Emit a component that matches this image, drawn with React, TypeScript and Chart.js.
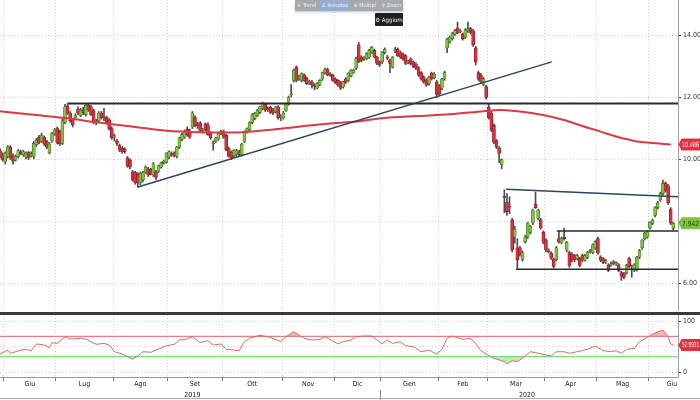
import React, { useEffect, useRef } from 'react';
import { Chart, registerables } from 'chart.js';

Chart.register(...registerables);

// ---------- daily OHLC (trading-day index 0..259) ----------
const opens = [
  10.29, 10.12, 9.92, 10.1, 10.4, 10.12, 9.98, 10.1, 10.24, 10.15,
  10.08, 10.22, 10.12, 10.1, 10.48, 10.72, 10.58, 10.72, 10.58, 10.22,
  10.6, 10.82, 11.0, 10.9, 10.52, 11.2, 11.72, 11.5, 11.28, 11.35,
  11.62, 11.42, 11.6, 11.45, 11.75, 11.7, 11.58, 11.18, 11.25, 11.5,
  11.36, 11.36, 11.28, 11.0, 10.72, 10.6, 10.45, 10.36, 10.34, 10.05,
  9.98, 9.6, 9.58, 9.52, 9.25, 9.35, 9.6, 9.7, 9.68, 9.5,
  9.6, 9.62, 9.75, 9.9, 9.9, 10.08, 10.18, 10.2, 10.1, 10.4,
  10.65, 10.72, 10.98, 10.92, 11.05, 11.35, 11.12, 11.18, 10.94, 11.15,
  11.12, 10.85, 10.5, 10.58, 10.66, 10.84, 10.9, 10.78, 10.35, 10.24,
  10.12, 10.16, 10.25, 10.15, 10.58, 10.88, 10.96, 11.2, 11.32, 11.42,
  11.52, 11.65, 11.78, 11.62, 11.68, 11.6, 11.54, 11.7, 11.38, 11.35,
  11.58, 11.8, 12.08, 12.55, 12.98, 12.62, 12.55, 12.72, 12.62, 12.48,
  12.5, 12.4, 12.3, 12.4, 12.6, 12.8, 12.9, 12.74, 12.72, 12.6,
  12.55, 12.48, 12.34, 12.6, 12.55, 12.7, 12.8, 12.95, 13.7, 13.3,
  13.26, 13.25, 13.3, 13.45, 13.52, 13.3, 13.15, 13.15, 13.45, 13.3,
  13.2, 12.98, 13.5, 13.55, 13.45, 13.4, 13.35, 13.14, 13.25, 13.15,
  13.08, 12.96, 12.8, 12.65, 12.56, 12.45, 12.78, 12.64, 12.5, 12.38,
  12.3, 12.6, 13.6, 13.8, 13.9, 14.04, 14.25, 14.12, 14.05, 13.95,
  14.15, 14.22, 14.15, 13.6, 12.8, 12.72, 12.42, 12.35, 11.68, 11.5,
  11.1, 10.6, 10.38, 9.84, 8.82, 8.62, 8.5, 8.05, 7.5, 7.15,
  7.15, 6.78, 7.35, 7.5, 7.65, 7.95, 8.55, 8.1, 8.05, 7.65,
  7.4, 7.06, 6.98, 6.78, 6.77, 7.45, 7.33, 7.5, 7.08, 7.0,
  6.95, 6.9, 6.8, 6.8, 6.9, 6.75, 6.85, 7.04, 7.0, 7.15,
  7.45, 6.85, 6.8, 6.7, 6.6, 6.6, 6.7, 6.64, 6.6, 6.35,
  6.32, 6.35, 6.8, 6.54, 6.42, 6.45, 6.85, 7.15, 7.45, 7.5,
  7.8, 7.94, 8.2, 8.45, 8.7, 8.9, 9.23, 9.15, 8.4, 7.78,
];
const highs = [
  10.35, 10.22, 10.25, 10.45, 10.45, 10.18, 10.15, 10.32, 10.3, 10.3,
  10.25, 10.26, 10.25, 10.58, 10.68, 10.78, 10.85, 10.76, 10.62, 10.55,
  10.88, 11.0, 11.05, 10.95, 11.3, 11.78, 11.82, 11.55, 11.32, 11.48,
  11.7, 11.65, 11.68, 11.8, 11.8, 11.75, 11.62, 11.3, 11.55, 11.55,
  11.65, 11.4, 11.32, 11.05, 10.82, 10.65, 10.5, 10.42, 10.38, 10.1,
  10.02, 9.65, 9.62, 9.58, 9.6, 9.62, 9.8, 9.75, 9.72, 9.9,
  9.65, 9.82, 9.92, 9.98, 10.22, 10.28, 10.25, 10.25, 10.42, 10.72,
  10.85, 10.95, 11.05, 10.98, 11.55, 11.42, 11.2, 11.22, 11.0, 11.18,
  11.18, 10.9, 10.6, 10.72, 10.88, 10.95, 10.95, 10.82, 10.4, 10.28,
  10.32, 10.33, 10.3, 10.52, 10.92, 11.02, 11.22, 11.48, 11.52, 11.62,
  11.72, 11.85, 11.82, 11.7, 11.72, 11.65, 11.72, 11.74, 11.45, 11.55,
  11.82, 12.05, 12.42, 12.92, 13.02, 12.72, 12.8, 12.76, 12.66, 12.55,
  12.55, 12.45, 12.48, 12.58, 12.82, 12.95, 12.95, 12.8, 12.76, 12.64,
  12.58, 12.52, 12.52, 12.64, 12.8, 12.9, 12.92, 13.3, 13.78, 13.35,
  13.32, 13.45, 13.55, 13.65, 13.56, 13.34, 13.18, 13.48, 13.6, 13.36,
  13.24, 13.32, 13.62, 13.6, 13.5, 13.44, 13.38, 13.2, 13.28, 13.18,
  13.12, 13.0, 12.84, 12.7, 12.6, 12.68, 12.82, 12.8, 12.55, 12.42,
  12.62, 12.85, 13.92, 13.98, 14.1, 14.2, 14.43, 14.2, 14.08, 14.22,
  14.43, 14.26, 14.2, 13.65, 12.85, 12.78, 12.65, 12.4, 11.8, 11.55,
  11.15, 10.65, 10.42, 10.02, 9.02, 8.9, 8.8, 8.1, 7.85, 7.45,
  7.2, 7.05, 7.55, 7.98, 7.88, 8.4, 8.95, 8.4, 8.1, 7.7,
  7.45, 7.12, 7.02, 6.82, 7.2, 7.69, 7.5, 7.79, 7.36, 7.05,
  7.0, 6.94, 6.94, 6.84, 6.95, 6.94, 7.04, 7.1, 7.28, 7.38,
  7.5, 6.9, 6.84, 6.78, 6.64, 6.7, 6.74, 6.7, 6.64, 6.4,
  6.36, 6.62, 6.85, 6.6, 6.64, 6.88, 7.1, 7.42, 7.65, 7.7,
  8.0, 8.08, 8.48, 8.65, 8.95, 9.34, 9.28, 9.2, 8.45, 7.98,
];
const lows = [
  10.05, 9.95, 9.85, 10.05, 10.0, 9.85, 9.95, 10.05, 10.15, 10.1,
  10.02, 10.0, 10.08, 10.02, 10.42, 10.5, 10.55, 10.45, 10.35, 10.18,
  10.55, 10.78, 10.5, 10.45, 10.48, 11.15, 11.45, 11.2, 11.05, 11.3,
  11.45, 11.38, 11.45, 11.4, 11.55, 11.42, 11.15, 11.12, 11.2, 11.3,
  11.25, 11.15, 10.95, 10.65, 10.6, 10.45, 10.25, 10.2, 10.2, 9.75,
  9.7, 9.3, 9.2, 9.1, 9.18, 9.28, 9.55, 9.45, 9.5, 9.45,
  9.35, 9.58, 9.72, 9.85, 9.88, 10.02, 10.1, 10.08, 10.05, 10.35,
  10.6, 10.68, 10.75, 10.68, 11.0, 11.05, 11.0, 10.88, 10.85, 10.92,
  10.78, 10.65, 10.3, 10.55, 10.62, 10.8, 10.68, 10.28, 10.08, 10.0,
  10.08, 10.1, 10.1, 10.12, 10.55, 10.85, 10.92, 11.15, 11.28, 11.38,
  11.48, 11.6, 11.55, 11.55, 11.48, 11.45, 11.5, 11.3, 11.25, 11.3,
  11.55, 11.75, 12.02, 12.5, 12.5, 12.55, 12.5, 12.52, 12.42, 12.42,
  12.3, 12.25, 12.28, 12.38, 12.55, 12.75, 12.7, 12.68, 12.52, 12.45,
  12.36, 12.25, 12.3, 12.45, 12.5, 12.66, 12.78, 12.9, 13.12, 13.15,
  13.2, 13.22, 13.26, 13.42, 13.28, 13.06, 13.0, 13.1, 13.4, 13.22,
  12.8, 12.95, 13.45, 13.32, 13.26, 13.2, 13.06, 13.08, 13.05, 12.96,
  12.9, 12.68, 12.56, 12.46, 12.36, 12.4, 12.56, 12.6, 12.0, 12.05,
  12.25, 12.55, 13.45, 13.75, 13.85, 14.0, 14.05, 14.08, 13.85, 13.9,
  14.1, 14.05, 13.65, 13.05, 12.55, 12.45, 12.38, 11.95, 11.3, 10.9,
  10.5, 10.35, 9.9, 9.7, 8.28, 8.2, 8.25, 7.02, 7.3, 6.46,
  6.88, 6.72, 7.3, 7.45, 7.6, 7.9, 8.42, 8.05, 7.75, 7.28,
  7.02, 6.98, 6.78, 6.5, 6.72, 7.3, 7.28, 7.4, 7.02, 6.52,
  6.7, 6.7, 6.76, 6.54, 6.7, 6.72, 6.8, 6.98, 6.96, 7.1,
  6.95, 6.7, 6.64, 6.64, 6.38, 6.55, 6.6, 6.58, 6.38, 6.1,
  6.15, 6.3, 6.5, 6.2, 6.38, 6.4, 6.8, 7.1, 7.4, 7.46,
  7.75, 7.9, 8.15, 8.4, 8.65, 8.85, 8.95, 8.55, 7.9, 7.72,
];
const closes = [
  10.13, 10.0, 10.2, 10.4, 10.05, 9.95, 10.1, 10.28, 10.2, 10.25,
  10.2, 10.05, 10.18, 10.52, 10.62, 10.55, 10.78, 10.5, 10.4, 10.5,
  10.85, 10.95, 10.55, 10.5, 11.25, 11.7, 11.5, 11.25, 11.12, 11.42,
  11.5, 11.6, 11.52, 11.75, 11.6, 11.45, 11.2, 11.24, 11.5, 11.35,
  11.34, 11.2, 10.98, 10.7, 10.76, 10.52, 10.3, 10.25, 10.26, 9.8,
  9.75, 9.33, 9.25, 9.24, 9.55, 9.58, 9.75, 9.5, 9.55, 9.86,
  9.42, 9.8, 9.88, 9.95, 10.2, 10.25, 10.15, 10.13, 10.4, 10.7,
  10.8, 10.9, 10.8, 10.72, 11.5, 11.1, 11.08, 10.92, 10.96, 10.95,
  10.8, 10.7, 10.52, 10.7, 10.85, 10.9, 10.72, 10.32, 10.1, 10.05,
  10.3, 10.28, 10.16, 10.5, 10.9, 11.0, 11.2, 11.45, 11.5, 11.58,
  11.7, 11.8, 11.6, 11.6, 11.52, 11.5, 11.7, 11.35, 11.42, 11.5,
  11.8, 12.0, 12.12, 12.88, 12.55, 12.66, 12.78, 12.55, 12.45, 12.5,
  12.4, 12.36, 12.45, 12.55, 12.8, 12.9, 12.72, 12.72, 12.55, 12.48,
  12.4, 12.3, 12.5, 12.5, 12.78, 12.88, 12.88, 13.27, 13.15, 13.2,
  13.28, 13.42, 13.52, 13.62, 13.3, 13.1, 13.05, 13.45, 13.55, 13.27,
  13.1, 13.3, 13.53, 13.35, 13.3, 13.25, 13.1, 13.16, 13.1, 13.0,
  12.95, 12.72, 12.6, 12.5, 12.4, 12.65, 12.6, 12.75, 12.1, 12.12,
  12.6, 12.8, 13.88, 13.95, 14.06, 14.15, 14.08, 14.15, 13.9, 14.18,
  14.22, 14.1, 13.7, 13.15, 12.6, 12.5, 12.6, 12.0, 11.35, 10.95,
  10.55, 10.4, 10.2, 10.0, 8.78, 8.32, 8.46, 7.08, 7.75, 6.77,
  6.93, 7.0, 7.5, 7.95, 7.85, 8.37, 8.45, 8.37, 7.8, 7.33,
  7.08, 7.03, 6.82, 6.55, 7.15, 7.33, 7.45, 7.45, 7.33, 6.58,
  6.75, 6.76, 6.9, 6.58, 6.75, 6.9, 7.0, 7.06, 7.25, 7.35,
  6.98, 6.75, 6.68, 6.72, 6.42, 6.63, 6.65, 6.66, 6.42, 6.25,
  6.2, 6.58, 6.55, 6.56, 6.6, 6.85, 7.06, 7.4, 7.62, 7.66,
  7.98, 8.03, 8.45, 8.6, 8.9, 9.23, 9.0, 8.6, 7.95, 7.942,
];

// ---------- moving average ----------
const maDays = [0, 13, 26, 38, 51, 64, 77, 90, 103, 115, 128, 135, 147, 160, 173, 186, 192, 199, 205, 212, 218, 224, 231, 237, 244, 250, 258];
const maValues = [11.56, 11.44, 11.33, 11.19, 11.06, 10.93, 10.88, 10.87, 10.95, 11.06, 11.17, 11.21, 11.33, 11.4, 11.46, 11.56, 11.6, 11.56, 11.49, 11.38, 11.25, 11.08, 10.9, 10.74, 10.6, 10.54, 10.486];

// ---------- drawn trend / level lines ----------
const riseLineDays = [53.1, 212.2];
const riseLineVals = [9.11, 13.15];
const fallLineDays = [194.6, 260.8];
const fallLineVals = [9.04, 8.8];
const topLevelDays = [26.2, 260.8];
const topLevelVals = [11.81, 11.81];
const rangeTopDays = [214.2, 260.8];
const rangeTopVals = [7.69, 7.69];
const rangeLowDays = [198.5, 260.8];
const rangeLowVals = [6.46, 6.46];

// ---------- RSI ----------
const rsiDays = [0, 3, 4, 8, 10, 12, 14, 17, 19, 20, 22, 25, 27, 31, 33, 35, 37, 40, 42, 44, 47, 49, 51, 53, 55, 58, 60, 64, 67, 69, 72, 74, 77, 80, 82, 85, 87, 90, 92, 94, 96, 100, 103, 105, 108, 110, 113, 115, 117, 120, 123, 125, 128, 130, 132, 135, 137, 140, 143, 145, 147, 149, 151, 154, 156, 159, 162, 165, 168, 170, 172, 174, 178, 181, 183, 185, 187, 190, 194, 195, 197, 199, 201, 204, 206, 210, 212, 214, 217, 219, 222, 224, 227, 229, 232, 235, 237, 239, 241, 244, 246, 249, 251, 255, 257, 258, 259];
const rsiValues = [35.3, 43, 36.6, 43, 44.5, 41.8, 55, 53, 47.7, 57.5, 56, 69, 64.7, 66, 64.7, 59.4, 54.3, 56, 53, 39.8, 35.3, 30, 24.9, 31.4, 39.8, 38.6, 43, 51.6, 54.3, 62.7, 64.7, 69.2, 57.5, 61.4, 53, 55, 44.5, 43, 41.8, 59.4, 66, 72, 69.2, 66, 59.4, 69.2, 79, 72.5, 66, 62.7, 64, 69.2, 60.8, 55, 59.4, 62.7, 69.2, 70.6, 70.6, 62.7, 55, 62.7, 56, 59.4, 51.6, 49.7, 39.8, 43, 35.3, 44.5, 66, 70.6, 64, 66, 55, 41.8, 35.3, 26.9, 20.2, 15.7, 22.2, 20.2, 26.9, 39.8, 37.9, 33.3, 31.4, 39.8, 39.8, 36.6, 39.8, 41.8, 46.5, 51, 41.8, 39.8, 41.8, 36.6, 44.5, 46.5, 59.4, 68, 74.5, 82.4, 69.2, 55, 52.9931];
const rsiUpper = 70;
const rsiLower = 30;

// ---------- axes ----------
const monthBounds = [1.5, 21.5, 43.5, 64.5, 85.5, 108.5, 128.5, 146.5, 168.5, 187.5, 209.5, 229.5, 249.5];
const monthLabels = ['Giu', 'Lug', 'Ago', 'Set', 'Ott', 'Nov', 'Dic', 'Gen', 'Feb', 'Mar', 'Apr', 'Mag', 'Giu'];
const monthLastEnd = 267.5;
const yearBounds = [1.5, 146.5, 259];
const yearLabels = ['2019', '2020'];
const priceTicks = [6, 8, 10, 12, 14];
const rsiTicks = [0, 50, 100];

// ---------- layout constants ----------
const FONT = '"DejaVu Sans Condensed", "Liberation Sans Narrow", "DejaVu Sans", sans-serif';
const X_MIN = 0;
const X_MAX = 260.8;
const PRICE_MIN = 5.113;
const PRICE_MAX = 15.145;
const RSI_MIN = -9.8;
const RSI_MAX = 111.8;
const AXIS_W = 22;
const GRID = '#cfcfcf';
const UP_FILL = '#80c244';
const UP_EDGE = '#3d6a18';
const DN_FILL = '#d8323e';
const DN_EDGE = '#7c1820';

const near = (a: number, b: number) => Math.abs(a - b) < 0.01;
const monthMids = monthBounds.map((b, i) => (b + (i + 1 < monthBounds.length ? monthBounds[i + 1] : monthLastEnd)) / 2);
const yearMids = yearLabels.map((_, i) => (yearBounds[i] + yearBounds[i + 1]) / 2);
const pts = (xs: number[], ys: number[]) => xs.map((x, i) => ({ x, y: ys[i] }));

const noPad = (s: any) => {
  s.paddingTop = 0;
  s.paddingBottom = 0;
  s.paddingLeft = 0;
  s.paddingRight = 0;
};

function valueTag(ctx: CanvasRenderingContext2D, x0: number, y: number, text: string, bg: string, fg: string) {
  ctx.save();
  ctx.fillStyle = bg;
  ctx.beginPath();
  ctx.moveTo(x0 + 0.5, y);
  ctx.lineTo(x0 + 3.5, y - 6);
  ctx.lineTo(700, y - 6);
  ctx.lineTo(700, y + 6);
  ctx.lineTo(x0 + 3.5, y + 6);
  ctx.closePath();
  ctx.fill();
  ctx.fillStyle = fg;
  ctx.font = `7px ${FONT}`;
  ctx.textBaseline = 'middle';
  ctx.textAlign = 'left';
  ctx.fillText(text, x0 + 4, y + 0.5, 700 - x0 - 5);
  ctx.restore();
}

const mainTags = {
  id: 'mainTags',
  afterDraw(chart: any) {
    const ys = chart.scales.y;
    const right = chart.chartArea.right;
    const ma = maValues[maValues.length - 1];
    const last = closes[closes.length - 1];
    valueTag(chart.ctx, right, ys.getPixelForValue(ma), ma.toFixed(3), '#df3341', '#ffffff');
    valueTag(chart.ctx, right, ys.getPixelForValue(last), last.toFixed(3), '#7fc43f', '#1d3a06');
  },
};

const rsiTags = {
  id: 'rsiTags',
  afterDraw(chart: any) {
    const ys = chart.scales.y;
    const v = rsiValues[rsiValues.length - 1];
    valueTag(chart.ctx, chart.chartArea.right, ys.getPixelForValue(v), v.toFixed(4), '#df3341', '#ffffff');
  },
};

export default function App() {
  const mainRef = useRef<HTMLCanvasElement>(null);
  const rsiRef = useRef<HTMLCanvasElement>(null);

  useEffect(() => {
    Chart.defaults.font.family = FONT;
    const idx = opens.map((_, i) => i);
    const up = (i: number) => closes[i] >= opens[i];

    const main = new Chart(mainRef.current as HTMLCanvasElement, {
      type: 'bar',
      data: {
        datasets: [
          { type: 'line', data: pts(maDays, maValues), borderColor: '#dc3a48', borderWidth: 2, pointRadius: 0, cubicInterpolationMode: 'monotone', order: 1 } as any,
          { type: 'line', data: pts(riseLineDays, riseLineVals), borderColor: '#2b4560', borderWidth: 1.5, pointRadius: 0, order: 0 } as any,
          { type: 'line', data: pts(fallLineDays, fallLineVals), borderColor: '#2b4560', borderWidth: 1.5, pointRadius: 0, order: 0 } as any,
          { type: 'line', data: pts(topLevelDays, topLevelVals), borderColor: '#2a2a2a', borderWidth: 2, pointRadius: 0, order: 0 } as any,
          { type: 'line', data: pts(rangeTopDays, rangeTopVals), borderColor: '#2a2a2a', borderWidth: 1.5, pointRadius: 0, order: 0 } as any,
          { type: 'line', data: pts(rangeLowDays, rangeLowVals), borderColor: '#2a2a2a', borderWidth: 1.5, pointRadius: 0, order: 0 } as any,
          {
            type: 'bar',
            data: idx.map((i) => ({ x: i, y: [opens[i], closes[i]] })),
            backgroundColor: idx.map((i) => (up(i) ? UP_FILL : DN_FILL)),
            borderColor: idx.map((i) => (up(i) ? UP_EDGE : DN_EDGE)),
            borderWidth: 0.6,
            borderSkipped: false,
            barThickness: 3,
            minBarLength: 1,
            grouped: false,
            order: 2,
          } as any,
          {
            type: 'bar',
            data: idx.map((i) => ({ x: i, y: [lows[i], highs[i]] })),
            backgroundColor: '#4d4d4d',
            barThickness: 1,
            grouped: false,
            order: 3,
          } as any,
        ],
      },
      options: {
        responsive: false,
        animation: false,
        maintainAspectRatio: false,
        layout: { padding: 0 },
        plugins: { legend: { display: false }, tooltip: { enabled: false } },
        scales: {
          x: {
            type: 'linear', min: X_MIN, max: X_MAX, offset: false,
            afterBuildTicks: (s: any) => { s.ticks = monthBounds.map((v) => ({ value: v })); },
            ticks: { display: false },
            grid: { color: GRID, drawTicks: false, offset: false },
            border: { display: false, dash: [1, 2] },
            afterFit: (s: any) => { s.height = 0; noPad(s); },
          },
          y: {
            type: 'linear', position: 'right', min: PRICE_MIN, max: PRICE_MAX,
            afterBuildTicks: (s: any) => { s.ticks = priceTicks.map((v) => ({ value: v })); },
            ticks: { callback: (v: any) => Number(v).toFixed(2), font: { size: 7 }, color: '#333', padding: 2 },
            grid: { color: GRID, tickLength: 3, tickColor: '#444', tickBorderDash: [] },
            border: { display: true, color: '#a0a0a0', dash: [1, 2] },
            afterFit: (s: any) => { s.width = AXIS_W; noPad(s); },
          },
        },
      } as any,
      plugins: [mainTags],
    });

    const rsiPts = pts(rsiDays, rsiValues);
    const rsi = new Chart(rsiRef.current as HTMLCanvasElement, {
      type: 'line',
      data: {
        datasets: [
          { data: rsiPts, borderColor: '#d96a6a', borderWidth: 1, pointRadius: 0, fill: { target: { value: rsiUpper }, above: 'rgba(236,120,120,0.55)', below: 'rgba(0,0,0,0)' }, order: 1 },
          { data: rsiPts, borderColor: 'rgba(0,0,0,0)', borderWidth: 0, pointRadius: 0, fill: { target: { value: rsiLower }, above: 'rgba(0,0,0,0)', below: 'rgba(140,226,120,0.6)' }, order: 2 },
          { data: pts([X_MIN, X_MAX], [rsiUpper, rsiUpper]), borderColor: '#e06464', borderWidth: 1, pointRadius: 0, order: 3 },
          { data: pts([X_MIN, X_MAX], [rsiLower, rsiLower]), borderColor: '#5ad55a', borderWidth: 1, pointRadius: 0, order: 3 },
        ] as any,
      },
      options: {
        responsive: false,
        animation: false,
        maintainAspectRatio: false,
        layout: { padding: 0 },
        plugins: { legend: { display: false }, tooltip: { enabled: false } },
        scales: {
          x: {
            type: 'linear', position: 'bottom', min: X_MIN, max: X_MAX, offset: false, weight: 0,
            afterBuildTicks: (s: any) => {
              s.ticks = [...monthBounds, ...monthMids].sort((a, b) => a - b).map((v) => ({ value: v }));
            },
            ticks: {
              autoSkip: false, maxRotation: 0, minRotation: 0, font: { size: 7 }, color: '#222', padding: -1,
              callback: (v: any) => {
                const k = monthMids.findIndex((m) => near(m, Number(v)));
                return k >= 0 ? monthLabels[k] : '';
              },
            },
            grid: {
              color: (c: any) => (monthBounds.some((b) => near(b, c.tick?.value)) ? GRID : 'rgba(0,0,0,0)'),
              tickColor: (c: any) => (monthBounds.some((b) => near(b, c.tick?.value)) ? '#777' : 'rgba(0,0,0,0)'),
              tickLength: 4, tickBorderDash: [], offset: false,
            },
            border: { display: true, color: '#9a9a9a', dash: [1, 2] },
            afterFit: (s: any) => { s.height = 13; noPad(s); },
          },
          xYear: {
            axis: 'x', type: 'linear', position: 'bottom', min: X_MIN, max: X_MAX, offset: false, weight: 1,
            afterBuildTicks: (s: any) => {
              s.ticks = [yearBounds[1], ...yearMids].sort((a, b) => a - b).map((v) => ({ value: v }));
            },
            ticks: {
              autoSkip: false, maxRotation: 0, minRotation: 0, font: { size: 7 }, color: '#222', padding: -9,
              callback: (v: any) => {
                const k = yearMids.findIndex((m) => near(m, Number(v)));
                return k >= 0 ? yearLabels[k] : '';
              },
            },
            grid: {
              drawOnChartArea: false,
              tickColor: (c: any) => (near(yearBounds[1], c.tick?.value) ? '#888' : 'rgba(0,0,0,0)'),
              tickLength: 10, tickBorderDash: [],
            },
            border: { display: false },
            afterFit: (s: any) => { s.height = 10; noPad(s); },
          },
          y: {
            type: 'linear', position: 'right', min: RSI_MIN, max: RSI_MAX,
            afterBuildTicks: (s: any) => { s.ticks = rsiTicks.map((v) => ({ value: v })); },
            ticks: { callback: (v: any) => String(v), font: { size: 7 }, color: '#333', padding: 2 },
            grid: { color: GRID, tickLength: 3, tickColor: '#444', tickBorderDash: [] },
            border: { display: true, color: '#a0a0a0', dash: [1, 2] },
            afterFit: (s: any) => { s.width = AXIS_W; noPad(s); },
          },
        },
      } as any,
      plugins: [rsiTags],
    });

    return () => {
      main.destroy();
      rsi.destroy();
    };
  }, []);

  const btn: React.CSSProperties = { padding: '0 2px', lineHeight: '11px', whiteSpace: 'nowrap' };
  return (
    <div style={{ position: 'fixed', left: 0, top: 0, width: 700, height: 400, background: '#fff', overflow: 'hidden', fontFamily: FONT }}>
      <canvas ref={mainRef} width={700} height={311} style={{ position: 'absolute', left: 0, top: 0 }} />
      <div style={{ position: 'absolute', left: 0, top: 312, width: 700, height: 3, background: '#3a3a3a' }} />
      <canvas ref={rsiRef} width={700} height={85} style={{ position: 'absolute', left: 0, top: 315 }} />
      <div style={{ position: 'absolute', left: 0, top: 398, width: 700, height: 1, background: '#a8a8a8' }} />
      <div style={{ position: 'absolute', left: 295, top: 0, width: 108, height: 11, display: 'flex', justifyContent: 'space-between', background: 'rgba(150,154,160,0.85)', color: '#eef0f2', fontSize: 5.5, boxShadow: '0 1px 2px rgba(0,0,0,0.25)', overflow: 'hidden' }}>
        <span style={btn}>+ Trend</span>
        <span style={{ ...btn, background: 'rgba(150,175,215,0.9)' }}>∠ Annotaz</span>
        <span style={btn}>≡ Multipl</span>
        <span style={btn}>⚲ Zoom</span>
      </div>
      <div style={{ position: 'absolute', left: 375, top: 13, width: 28, height: 13, background: '#1f1f1f', color: '#f2f2f2', fontSize: 6, lineHeight: '13px', textAlign: 'center', borderRadius: 1, whiteSpace: 'nowrap' }}>
        ⚙ Aggiorn
      </div>
    </div>
  );
}
